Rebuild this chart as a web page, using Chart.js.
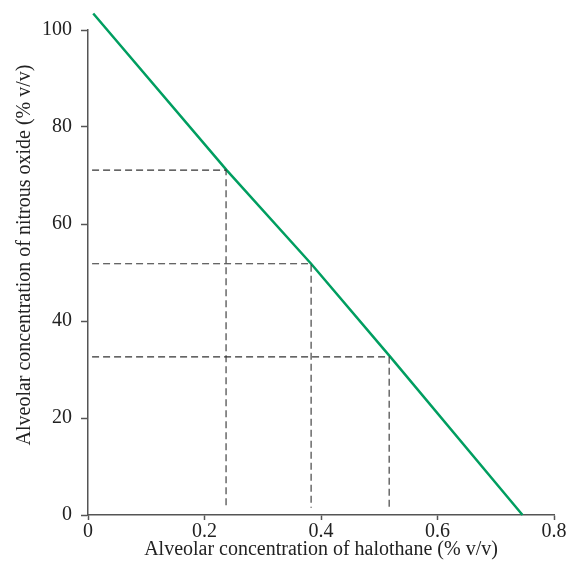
<!DOCTYPE html>
<html>
<head>
<meta charset="utf-8">
<script src="https://cdn.jsdelivr.net/npm/chart.js@4/dist/chart.umd.min.js"></script>
<style>
  html, body { margin: 0; padding: 0; background: #fff; }
  #wrap { width: 568px; height: 567px; }
</style>
</head>
<body>
<div id="wrap"><canvas id="chart" width="568" height="567"></canvas></div>
<script>
// isobole: halothane vs nitrous oxide
const lineHalothane = [0.009, 0.238, 0.383, 0.519, 0.746];
const lineNitrous = [103.4, 71.1, 51.8, 32.6, 0];

// dashed reading lines
const readHalothane = [0.237, 0.383, 0.517];
const readNitrous = [71.1, 51.8, 32.6];

const xTicks = [0, 0.2, 0.4, 0.6, 0.8];
const yTicks = [0, 20, 40, 60, 80, 100];

const axisColor = '#555';
const textColor = '#222';
const serif = "'Liberation Serif', 'Times New Roman', serif";

const datasets = [];

readHalothane.forEach((h, i) => {
    datasets.push({
        data: [
            { x: 0.007, y: readNitrous[i] },
            { x: h, y: readNitrous[i] },
            { x: h, y: 1.5 }
        ],
        showLine: true,
        borderColor: '#333',
        borderWidth: 1.1,
        borderDash: [7, 4],
        pointRadius: 0,
        fill: false
    });
});

datasets.push({
    data: lineHalothane.map((x, i) => ({ x: x, y: lineNitrous[i] })),
    showLine: true,
    borderColor: '#009E60',
    borderWidth: 2.5,
    pointRadius: 0,
    clip: false,
    fill: false
});

new Chart(document.getElementById('chart'), {
    type: 'scatter',
    data: { datasets: datasets },
    options: {
        responsive: false,
        animation: false,
        layout: { padding: { top: 30, right: 14, left: 0, bottom: 0 } },
        plugins: { legend: { display: false }, tooltip: { enabled: false } },
        scales: {
            x: {
                type: 'linear',
                min: xTicks[0],
                max: xTicks[xTicks.length - 1],
                afterBuildTicks: s => { s.ticks = xTicks.map(v => ({ value: v })); },
                afterFit: s => { s.height = 52; },
                grid: { drawOnChartArea: false, drawTicks: true, tickLength: 5, tickColor: axisColor, tickWidth: 1.5 },
                border: { color: axisColor, width: 1.5 },
                ticks: { color: textColor, font: { family: serif, size: 20 }, padding: 0, callback: v => String(v) },
                title: {
                    display: true,
                    text: 'Alveolar concentration of halothane (% v/v)',
                    color: textColor,
                    font: { family: serif, size: 20 },
                    padding: { top: 0, bottom: 5 }
                }
            },
            y: {
                type: 'linear',
                min: yTicks[0],
                max: yTicks[yTicks.length - 1],
                afterBuildTicks: s => { s.ticks = yTicks.map(v => ({ value: v })); },
                afterFit: s => { s.width = 88; },
                grid: { drawOnChartArea: false, drawTicks: true, tickLength: 7, tickColor: axisColor, tickWidth: 1.5 },
                border: { color: axisColor, width: 1.5 },
                ticks: { color: textColor, font: { family: serif, size: 20 }, padding: 9 },
                title: {
                    display: true,
                    text: '\u00a0\u00a0\u00a0\u00a0\u00a0\u00a0\u00a0Alveolar concentration of nitrous oxide (% v/v)',
                    color: textColor,
                    font: { family: serif, size: 20 },
                    padding: { top: 13, bottom: 0 }
                }
            }
        }
    }
});
</script>
</body>
</html>
